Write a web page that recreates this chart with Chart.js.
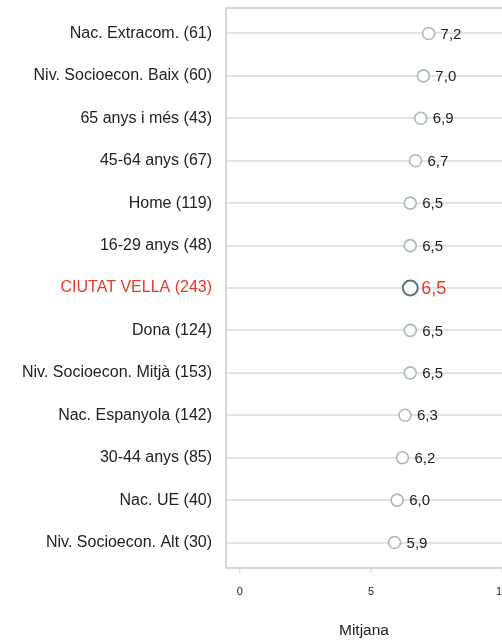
<!DOCTYPE html>
<html>
<head>
<meta charset="utf-8">
<script src="https://cdn.jsdelivr.net/npm/chart.js@4/dist/chart.umd.min.js"></script>
<style>
  html, body { margin: 0; padding: 0; background: #fff; overflow: hidden; }
  #wrap { width: 502px; height: 641px; }
</style>
</head>
<body>
<div id="wrap"><canvas id="grafic" width="502" height="641"></canvas></div>
<script>
// categories de dalt a baix
const categories = [
    'Nac. Extracom. (61)',
    'Niv. Socioecon. Baix (60)',
    '65 anys i més (43)',
    '45-64 anys (67)',
    'Home (119)',
    '16-29 anys (48)',
    'CIUTAT VELLA (243)',
    'Dona (124)',
    'Niv. Socioecon. Mitjà (153)',
    'Nac. Espanyola (142)',
    '30-44 anys (85)',
    'Nac. UE (40)',
    'Niv. Socioecon. Alt (30)'
];
const mitjanes = [7.2, 7.0, 6.9, 6.7, 6.5, 6.5, 6.5, 6.5, 6.5, 6.3, 6.2, 6.0, 5.9];
const xTicks = [0, 5, 10];
const destacat = 'CIUTAT VELLA (243)';

const VERMELL = '#e4392b';
const TEXT = '#222';
const LINIA = '#e3e3e3';
const FONT = '"Liberation Sans", Arial, sans-serif';

const isDest = (i) => categories[i] === destacat;
const fmt = (v) => v.toFixed(1).replace('.', ',');

// etiquetes de valor al costat de cada punt + línia superior del requadre
const extres = {
    id: 'extres',
    afterDatasetsDraw(chart) {
        const ctx = chart.ctx;
        const meta = chart.getDatasetMeta(0);
        ctx.save();
        ctx.textBaseline = 'middle';
        ctx.textAlign = 'left';
        meta.data.forEach((pt, i) => {
            const d = isDest(i);
            ctx.fillStyle = d ? VERMELL : TEXT;
            ctx.font = (d ? '18px ' : '15px ') + FONT;
            ctx.fillText(fmt(mitjanes[i]), pt.x + (d ? 11 : 12), pt.y + 1);
        });
        ctx.restore();
    },
    beforeDraw(chart) {
        const { ctx, chartArea } = chart;
        ctx.save();
        ctx.strokeStyle = '#d6d6d6';
        ctx.lineWidth = 2;
        ctx.beginPath();
        ctx.moveTo(chartArea.left - 1, chartArea.top);
        ctx.lineTo(chartArea.right, chartArea.top);
        ctx.stroke();
        ctx.restore();
    }
};

new Chart(document.getElementById('grafic'), {
    type: 'scatter',
    data: {
        datasets: [{
            data: mitjanes.map((v, i) => ({ x: v, y: i })),
            pointRadius: (c) => isDest(c.dataIndex) ? 7.5 : 6,
            pointHoverRadius: (c) => isDest(c.dataIndex) ? 7.5 : 6,
            pointBorderWidth: (c) => isDest(c.dataIndex) ? 2 : 1.6,
            pointBorderColor: (c) => isDest(c.dataIndex) ? '#5d776b' : '#aabbb3',
            pointBackgroundColor: '#fff'
        }]
    },
    plugins: [extres],
    options: {
        responsive: false,
        animation: false,
        layout: { autoPadding: false, padding: { top: 8, right: 0, left: 0, bottom: 0 } },
        plugins: {
            legend: { display: false },
            tooltip: { enabled: false }
        },
        scales: {
            x: {
                type: 'linear',
                min: -0.53,
                max: 10,
                afterBuildTicks: (s) => { s.ticks = xTicks.map(v => ({ value: v })); },
                afterFit: (s) => { s.height = 73; s.paddingLeft = 0; s.paddingRight = 0; },
                grid: {
                    drawOnChartArea: false,
                    drawTicks: true,
                    tickLength: 5,
                    color: '#e0e0e0',
                    lineWidth: 1.5
                },
                border: { display: true, color: '#d6d6d6', width: 2 },
                ticks: {
                    padding: 12,
                    color: TEXT,
                    font: { family: FONT, size: 11 },
                    maxRotation: 0
                },
                title: {
                    display: true,
                    text: 'Mitjana',
                    color: TEXT,
                    padding: { top: 0, bottom: 1 },
                    font: { family: FONT, size: 15.5 }
                }
            },
            y: {
                type: 'linear',
                reverse: true,
                min: -0.6,
                max: 12.6,
                afterBuildTicks: (s) => { s.ticks = categories.map((c, i) => ({ value: i })); },
                afterFit: (s) => { s.width = 226; s.paddingTop = 0; s.paddingBottom = 0; },
                grid: {
                    drawTicks: false,
                    color: LINIA,
                    lineWidth: 2
                },
                border: { display: true, color: '#d6d6d6', width: 2 },
                ticks: {
                    padding: 14,
                    autoSkip: false,
                    color: (c) => isDest(c.index) ? VERMELL : TEXT,
                    font: { family: FONT, size: 16 },
                    callback: (v) => categories[v]
                }
            }
        }
    }
});
</script>
</body>
</html>
